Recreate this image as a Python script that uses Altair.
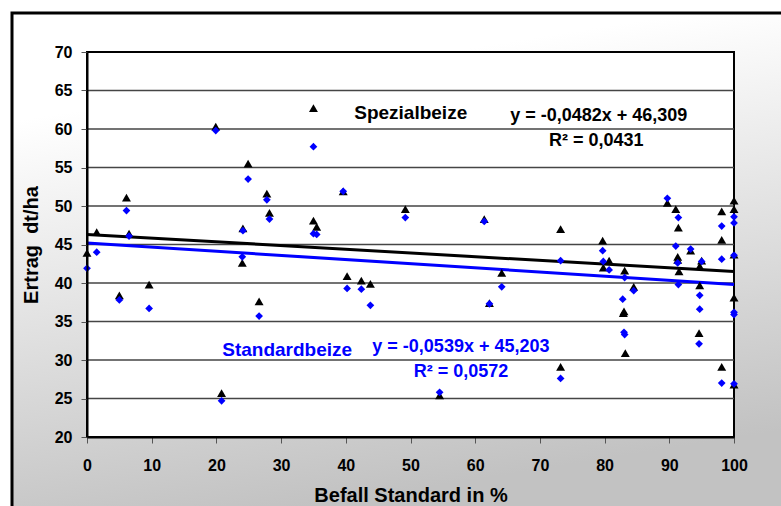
import altair as alt
import pandas as pd

FONT = "Liberation Sans"

# Befall Standard (%) and yield (dt/ha), Spezialbeize (triangles)
spez_x = [0, 1.5, 5.0, 6.1, 6.5, 9.6, 19.9, 20.8, 24.1, 24.0, 24.9, 26.6, 27.8, 28.2,
          35.0, 35.0, 35.5, 39.6, 40.2, 42.4, 43.8, 49.2, 54.5, 61.4, 62.2, 64.1, 73.2, 73.2,
          79.7, 79.8, 80.7, 83.1, 82.9, 83.0, 83.2, 84.5, 89.7, 91.0, 91.4, 91.3, 91.3, 91.5,
          93.3, 95.0, 94.7, 94.7, 94.6, 98.1, 98.1, 98.1, 100, 100, 100, 100, 100]
spez_y = [43.9, 46.6, 38.4, 51.1, 46.4, 39.8, 60.3, 25.7, 47.1, 42.6, 55.5, 37.6, 51.6, 49.1,
          62.7, 48.1, 47.3, 51.9, 40.9, 40.3, 39.9, 49.6, 25.4, 48.3, 37.4, 41.3, 47.0, 29.1,
          45.5, 42.0, 42.9, 41.6, 36.1, 36.3, 30.9, 39.5, 50.4, 49.6, 47.2, 43.4, 43.0, 41.5,
          44.2, 42.9, 42.2, 39.7, 33.5, 49.3, 45.6, 29.1, 50.7, 49.6, 43.7, 38.1, 26.8]

# Befall Standard (%) and yield (dt/ha), Standardbeize (diamonds)
std_x = [0, 1.5, 5.0, 6.1, 6.5, 9.6, 19.9, 20.8, 24.1, 24.0, 24.9, 26.6, 27.8, 28.2,
         35.0, 35.0, 35.5, 39.6, 40.2, 42.4, 43.8, 49.2, 54.5, 61.4, 62.2, 64.1, 73.2, 73.2,
         79.7, 79.8, 80.7, 83.1, 82.8, 83.0, 83.1, 84.5, 89.7, 91.0, 91.4, 91.3, 91.4,
         93.3, 95.0, 94.7, 94.7, 94.6, 98.1, 98.1, 98.1, 100, 100, 100, 100, 100, 100]
std_y = [41.9, 44.0, 37.8, 49.4, 46.1, 36.7, 59.8, 24.7, 46.8, 43.4, 53.5, 35.7, 50.8, 48.3,
         57.7, 46.4, 46.3, 51.9, 39.3, 39.2, 37.1, 48.5, 25.8, 48.0, 37.3, 39.5, 42.9, 27.6,
         44.2, 42.8, 41.7, 40.7, 37.9, 33.6, 33.3, 39.0, 51.0, 44.8, 48.5, 42.6, 39.8,
         44.4, 42.8, 38.4, 36.6, 32.1, 47.4, 43.1, 27.0, 48.6, 47.8, 43.6, 36.2, 35.9, 26.9]

# linear trend lines as stated on the chart
series = ["Spezialbeize", "Standardbeize"]
slopes = [-0.0482, -0.0539]
intercepts = [46.309, 45.203]
r_squared = [0.0431, 0.0572]
series_colors = ["#000000", "#0000ff"]

x_ticks = [0, 10, 20, 30, 40, 50, 60, 70, 80, 90, 100]
y_ticks = [20, 25, 30, 35, 40, 45, 50, 55, 60, 65, 70]

W, H = 647, 385


def de(v):
    return str(v).replace(".", ",")


pts_spez = pd.DataFrame({"x": spez_x, "y": spez_y})
pts_std = pd.DataFrame({"x": std_x, "y": std_y})

trend_rows = []
for name, m, b in zip(series, slopes, intercepts):
    for xv in (x_ticks[0], x_ticks[-1]):
        trend_rows.append({"series": name, "x": xv, "y": b + m * xv})
trend_df = pd.DataFrame(trend_rows)

eq_text = [f"y = {de(m)}x + {de(b)}" for m, b in zip(slopes, intercepts)]
r2_text = [f"R\u00b2 = {de(r)}" for r in r_squared]

# annotation anchors in data units (left aligned, alphabetic baseline)
notes = pd.DataFrame({
    "x": [41.3, 65.4, 71.4, 20.9, 44.1, 50.5],
    "y": [61.3, 61.0, 57.8, 30.5, 31.0, 27.8],
    "label": [series[0], eq_text[0], r2_text[0], series[1], eq_text[1], r2_text[1]],
    "color": [series_colors[0]] * 3 + [series_colors[1]] * 3,
    "fs": [19, 18, 18, 19, 18, 18],
})

grid_df = pd.DataFrame({"v": y_ticks[1:-1]})

xs = alt.Scale(domain=[x_ticks[0], x_ticks[-1]], nice=False, zero=False)
ys = alt.Scale(domain=[y_ticks[0], y_ticks[-1]], nice=False, zero=False)

x_axis = alt.Axis(
    values=x_ticks, format="d", grid=False, zindex=1,
    title="Befall Standard in %",
    domainColor="black", domainWidth=2,
    tickColor="#555555", tickWidth=1, tickSize=6,
    labelFont=FONT, labelFontSize=16, labelFontWeight="bold", labelColor="black",
    labelPadding=14, labelFlush=False, labelOverlap=False,
    titleFont=FONT, titleFontSize=20, titleFontWeight="bold", titleColor="black",
    titleX=W / 2, titleY=64, titleBaseline="alphabetic", titleAlign="center",
)
y_axis = alt.Axis(
    values=y_ticks, format="d", grid=False, zindex=1,
    title="Ertrag\u00a0\u00a0dt/ha",
    domainColor="black", domainWidth=2,
    tickColor="#555555", tickWidth=1, tickSize=6,
    labelFont=FONT, labelFontSize=16, labelFontWeight="bold", labelColor="black",
    labelPadding=9, labelOverlap=False,
    titleFont=FONT, titleFontSize=20, titleFontWeight="bold", titleColor="black",
    titleAngle=270, titleX=-50, titleY=H / 2, titleBaseline="alphabetic", titleAlign="center",
)

X = lambda f: alt.X(f, scale=xs, axis=x_axis)
Y = lambda f: alt.Y(f, scale=ys, axis=y_axis)

one = pd.DataFrame({"k": [0]})

backdrop = alt.LinearGradient(
    gradient="linear",
    stops=[
        alt.GradientStop(color="#ffffff", offset=0),
        alt.GradientStop(color="#ffffff", offset=0.2),
        alt.GradientStop(color="#c2c2c2", offset=1),
    ],
    x1=0, y1=0, x2=0.25, y2=1,
)

frame = alt.Chart(one).mark_rect(fill=backdrop, stroke="black", strokeWidth=3).encode(
    x=alt.value(-75), x2=alt.value(720), y=alt.value(-39), y2=alt.value(470)
)
plot_bg = alt.Chart(one).mark_rect(fill="white", stroke="black", strokeWidth=2).encode(
    x=alt.value(0), x2=alt.value(W), y=alt.value(0), y2=alt.value(H)
)
grid = alt.Chart(grid_df).mark_rule(color="#454545", strokeWidth=1.5).encode(
    y=Y("v:Q"), x=alt.value(0), x2=alt.value(W)
)
trend = alt.Chart(trend_df).mark_line(strokeWidth=3).encode(
    x=X("x:Q"), y=Y("y:Q"),
    color=alt.Color("series:N", scale=alt.Scale(domain=series, range=series_colors), legend=None),
)
tri = alt.Chart(pts_spez).mark_point(
    shape="triangle-up", filled=True, size=80, color=series_colors[0], opacity=1
).encode(x=X("x:Q"), y=Y("y:Q"))
dia = alt.Chart(pts_std).mark_point(
    shape="diamond", filled=True, size=60, color=series_colors[1], opacity=1
).encode(x=X("x:Q"), y=Y("y:Q"))
text = alt.Chart(notes).mark_text(
    align="left", baseline="alphabetic", font=FONT, fontWeight="bold"
).encode(
    x=X("x:Q"), y=Y("y:Q"), text="label:N",
    color=alt.Color("color:N", scale=None),
    size=alt.Size("fs:Q", scale=None),
)

chart = alt.layer(frame, plot_bg, grid, trend, tri, dia, text).properties(
    width=W, height=H,
    padding={"left": 87, "top": 52, "right": 47, "bottom": 69},
    autosize=alt.AutoSizeParams(type="none"),
    background="white",
).configure_view(stroke=None)

chart.save("out.html", embed_options={"renderer": "svg", "actions": False})
